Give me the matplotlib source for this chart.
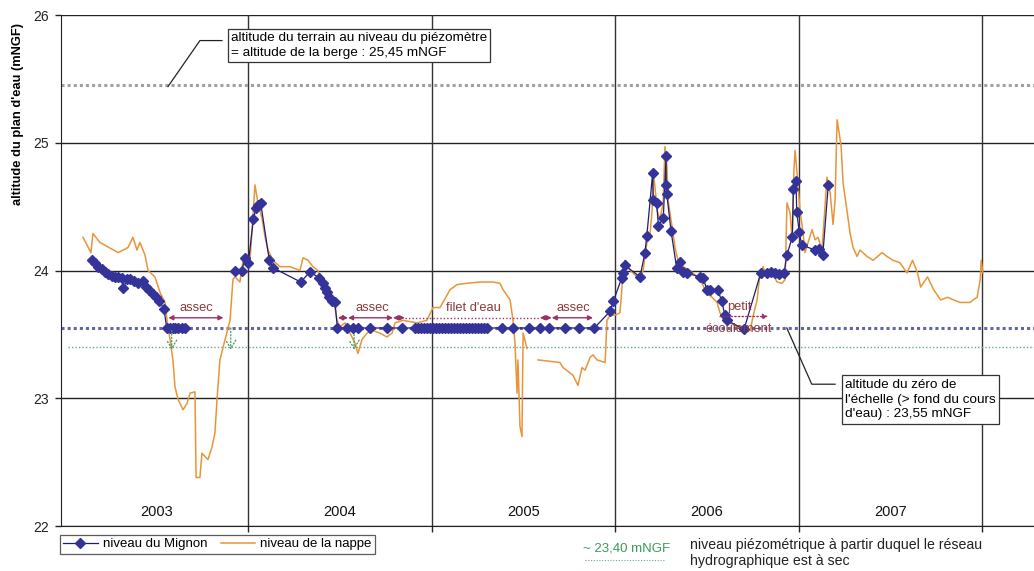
import numpy as np
import matplotlib
matplotlib.use("Agg")
import matplotlib.pyplot as plt

plt.rcParams['font.family'] = ['Liberation Sans', 'DejaVu Sans']

# niveau de la nappe (piezometre), annee decimale / mNGF
nappe_t = [2003.101, 2003.144, 2003.155, 2003.193, 2003.292, 2003.346, 2003.373, 2003.395, 2003.411,
           2003.439, 2003.455, 2003.493, 2003.520, 2003.548, 2003.559, 2003.575, 2003.591, 2003.602,
           2003.619, 2003.646, 2003.668, 2003.684, 2003.711, 2003.717, 2003.738, 2003.749, 2003.782,
           2003.804, 2003.820, 2003.831, 2003.847, 2003.875, 2003.902, 2003.918, 2003.929, 2003.956,
           2003.973, 2003.995, 2004.011, 2004.038, 2004.054, 2004.076, 2004.093, 2004.109, 2004.136,
           2004.174, 2004.229, 2004.283, 2004.300, 2004.327, 2004.354, 2004.381, 2004.409, 2004.447,
           2004.474, 2004.485, 2004.501, 2004.529, 2004.556, 2004.583, 2004.599, 2004.621, 2004.649,
           2004.681, 2004.719, 2004.757, 2004.785, 2004.801, 2004.845, 2004.921, 2004.975, 2005.008,
           2005.046, 2005.074, 2005.101, 2005.139, 2005.193, 2005.264, 2005.335, 2005.373, 2005.390,
           2005.428, 2005.444, 2005.455, 2005.466, 2005.471, 2005.482, 2005.493, 2005.499, 2005.520,
           2005.540, 2005.580, 2005.700, 2005.717, 2005.744, 2005.771, 2005.798, 2005.820, 2005.837,
           2005.864, 2005.880, 2005.902, 2005.946, 2005.956, 2005.973, 2006.000, 2006.027, 2006.038,
           2006.044, 2006.054, 2006.071, 2006.098, 2006.136, 2006.153, 2006.174, 2006.191, 2006.202,
           2006.207, 2006.218, 2006.229, 2006.245, 2006.262, 2006.272, 2006.283, 2006.289, 2006.311,
           2006.327, 2006.343, 2006.371, 2006.409, 2006.447, 2006.474, 2006.501, 2006.529, 2006.556,
           2006.572, 2006.594, 2006.627, 2006.665, 2006.698, 2006.736, 2006.752, 2006.774, 2006.790,
           2006.807, 2006.828, 2006.856, 2006.883, 2006.910, 2006.927, 2006.937, 2006.954, 2006.965,
           2006.975, 2006.981, 2006.992, 2007.008, 2007.025, 2007.035, 2007.052, 2007.074, 2007.090,
           2007.106, 2007.128, 2007.134, 2007.155, 2007.172, 2007.188, 2007.199, 2007.210, 2007.221,
           2007.232, 2007.243, 2007.264, 2007.281, 2007.297, 2007.319, 2007.335, 2007.373, 2007.406,
           2007.455, 2007.482, 2007.515, 2007.553, 2007.591, 2007.621, 2007.649, 2007.665, 2007.703,
           2007.736, 2007.774, 2007.812, 2007.845, 2007.880, 2007.935, 2007.951, 2007.973, 2007.990,
           2007.995, 2008.005]
nappe_v = [24.26, 24.14, 24.29, 24.22, 24.14, 24.18, 24.26, 24.16, 24.22,
           24.12, 24.00, 23.95, 23.83, 23.75, 23.61, 23.46, 23.30, 23.09,
           22.99, 22.91, 22.96, 23.04, 23.05, 22.38, 22.38, 22.57, 22.52,
           22.62, 22.73, 22.99, 23.30, 23.46, 23.61, 23.93, 23.95, 23.91,
           24.08, 24.11, 24.08, 24.67, 24.53, 24.41, 24.26, 24.16, 24.08,
           24.03, 24.03, 24.00, 24.10, 24.08, 24.03, 24.00, 23.90, 23.79,
           23.71, 23.61, 23.56, 23.59, 23.51, 23.43, 23.35, 23.46, 23.51,
           23.53, 23.51, 23.48, 23.51, 23.59, 23.61, 23.59, 23.61, 23.71,
           23.71, 23.78, 23.85, 23.89, 23.90, 23.91, 23.91, 23.90, 23.85,
           23.77, 23.61, 23.43, 23.04, 23.30, 22.78, 22.70, 23.51, 23.39,
           np.nan, 23.30, 23.28, 23.24, 23.21, 23.18, 23.10, 23.24, 23.22,
           23.32, 23.34, 23.30, 23.28, 23.61, 23.65, 23.65, 23.67, 23.87,
           24.00, 24.08, 24.02, 23.98, 23.93, 24.00, 24.22, 24.29, 24.47,
           24.79, 24.65, 24.47, 24.40, 24.53, 24.97, 24.81, 24.55, 24.34,
           24.18, 24.08, 24.03, 24.00, 23.95, 23.90, 23.82, 23.79, 23.75,
           23.67, 23.61, 23.59, 23.56, 23.53, 23.53, 23.64, 23.77, 23.98,
           24.03, 23.95, 23.98, 23.91, 23.90, 23.93, 24.53, 24.45, 24.24,
           24.79, 24.94, 24.76, 24.47, 24.29, 24.14, 24.22, 24.32, 24.24,
           24.26, 24.16, 24.29, 24.73, 24.61, 24.36, 24.55, 25.18, 25.08,
           24.97, 24.68, 24.47, 24.29, 24.18, 24.11, 24.16, 24.11, 24.08,
           24.14, 24.11, 24.08, 24.06, 23.98, 24.08, 23.98, 23.87, 23.95,
           23.85, 23.77, 23.79, 23.77, 23.75, 23.75, 23.77, 23.79, 23.93,
           24.08, 23.98]

# niveau du Mignon (echelle), annee decimale / mNGF
mignon_t = [2003.152, 2003.166, 2003.184, 2003.203, 2003.221, 2003.239, 2003.257, 2003.275, 2003.293,
            2003.312, 2003.321, 2003.339, 2003.357, 2003.379, 2003.402, 2003.426, 2003.444, 2003.462,
            2003.480, 2003.499, 2003.517, 2003.542, 2003.557, 2003.575, 2003.591, 2003.602, 2003.619,
            2003.640, 2003.657, 2003.800,
            2003.929, 2003.966, 2003.984, 2004.002, 2004.029, 2004.044, 2004.057, 2004.069, 2004.116,
            2004.138, 2004.287, 2004.338, 2004.389, 2004.407, 2004.420, 2004.432, 2004.443, 2004.456,
            2004.474, 2004.487, 2004.538, 2004.571, 2004.598, 2004.665, 2004.756, 2004.838,
            2004.910, 2004.926, 2004.943, 2004.959, 2004.975, 2004.992, 2005.008, 2005.025, 2005.041,
            2005.057, 2005.074, 2005.090, 2005.106, 2005.123, 2005.139, 2005.155, 2005.172, 2005.188,
            2005.204, 2005.221, 2005.237, 2005.253, 2005.270, 2005.286, 2005.302,
            2005.383, 2005.446, 2005.533, 2005.591, 2005.642, 2005.728, 2005.804, 2005.887,
            2005.973, 2005.991, 2006.036, 2006.045, 2006.054, 2006.136, 2006.163, 2006.173, 2006.205,
            2006.209, 2006.227, 2006.236, 2006.263, 2006.278, 2006.279, 2006.282, 2006.305, 2006.336,
            2006.354, 2006.372, 2006.391, 2006.463, 2006.481, 2006.500, 2006.518, 2006.560, 2006.581,
            2006.599, 2006.609, 2006.703, 2006.794, 2006.827, 2006.850, 2006.872, 2006.895, 2006.921,
            2006.936, 2006.966, 2006.972, 2006.986, 2006.990, 2007.004, 2007.017, 2007.090, 2007.113,
            2007.132, 2007.162]
mignon_v = [24.08, 24.06, 24.03, 24.01, 23.99, 23.97, 23.96, 23.95, 23.95,
            23.94, 23.86, 23.93, 23.93, 23.92, 23.90, 23.92, 23.87, 23.85,
            23.82, 23.79, 23.76, 23.70, 23.55, 23.55, 23.55, 23.55, 23.55,
            23.55, 23.55, np.nan,
            24.00, 24.00, 24.10, 24.06, 24.40, 24.49, 24.51, 24.53, 24.08,
            24.02, 23.91, 23.99, 23.94, 23.90, 23.86, 23.83, 23.79, 23.76,
            23.75, 23.55, 23.55, 23.55, 23.55, 23.55, 23.55, 23.55,
            23.55, 23.55, 23.55, 23.55, 23.55, 23.55, 23.55, 23.55, 23.55,
            23.55, 23.55, 23.55, 23.55, 23.55, 23.55, 23.55, 23.55, 23.55,
            23.55, 23.55, 23.55, 23.55, 23.55, 23.55, 23.55,
            23.55, 23.55, 23.55, 23.55, 23.55, 23.55, 23.55, 23.55,
            23.68, 23.76, 23.94, 23.98, 24.04, 23.95, 24.14, 24.27, 24.76,
            24.55, 24.53, 24.35, 24.41, 24.90, 24.67, 24.60, 24.31, 24.02,
            24.07, 23.99, 23.98, 23.95, 23.94, 23.85, 23.85, 23.85, 23.76,
            23.65, 23.61, 23.54, 23.98, 23.98, 23.99, 23.98, 23.97, 23.98,
            24.12, 24.26, 24.64, 24.70, 24.46, 24.30, 24.20, 24.16, 24.17,
            24.12, 24.67]

years = [2003, 2004, 2005, 2006, 2007]
alt_berge = 25.45
alt_zero_echelle = 23.55
niveau_sec = 23.40

fig = plt.figure(figsize=(10.34, 5.71), dpi=100)
ax = fig.add_axes([0.059, 0.0788, 0.941, 0.8949])

ax.set_xlim(2002.981, 2008.283)
ax.set_ylim(22, 26)

# grille
for yy in [22, 23, 24, 25, 26]:
    ax.axhline(yy, color='#222222', lw=1.0, zorder=1)
for yb in years[1:] + [2008]:
    ax.axvline(yb, color='#333333', lw=1.0, zorder=1)

# niveaux de reference
ax.axhline(alt_berge, color='#a0a0a0', lw=2.2, ls=(0, (1, 1)), zorder=2)
ax.axhline(alt_zero_echelle, color='#6464a8', lw=2.2, ls=(0, (1, 1)), zorder=2)
ax.plot([2003.02, 2008.283], [niveau_sec] * 2, color='#66aa88', lw=1.0, ls=(0, (1, 1.5)), zorder=2)

# series
ax.plot(nappe_t, nappe_v, color='#e8953a', lw=1.1, zorder=3, label='niveau de la nappe')
ax.plot(mignon_t, mignon_v, color='#1e1e70', lw=0.9, marker='D', ms=5,
        markerfacecolor='#33339a', markeredgecolor='#33339a', zorder=4, label='niveau du Mignon')

# annotations assec / filet d'eau / petit ecoulement
arr_col = '#993366'
txt_col = '#8b3a3a'
y_arr = 23.63
fs_note = 9.3


def double_arrow(x0, x1, y=y_arr):
    ax.annotate('', xy=(x1, y), xytext=(x0, y),
                arrowprops=dict(arrowstyle='<|-|>', color=arr_col, lw=1.0,
                                mutation_scale=7, shrinkA=0, shrinkB=0), zorder=5)


double_arrow(2003.566, 2003.866)
ax.text(2003.716, 23.66, 'assec', color=txt_col, fontsize=fs_note, ha='center', va='bottom')

double_arrow(2004.490, 2004.545)
double_arrow(2004.545, 2004.790)
double_arrow(2004.790, 2004.855)
ax.text(2004.675, 23.66, 'assec', color=txt_col, fontsize=fs_note, ha='center', va='bottom')
ax.plot([2004.855, 2005.590], [y_arr, y_arr], color=arr_col, lw=1.0, ls=(0, (1, 1.5)), zorder=5)
ax.text(2005.226, 23.66, "filet d'eau", color=txt_col, fontsize=fs_note, ha='center', va='bottom')

double_arrow(2005.590, 2005.655)
double_arrow(2005.655, 2005.880)
ax.text(2005.770, 23.66, 'assec', color=txt_col, fontsize=fs_note, ha='center', va='bottom')

ax.annotate('', xy=(2006.835, 23.64), xytext=(2006.572, 23.64),
            arrowprops=dict(arrowstyle='-|>', color=arr_col, lw=1.0, ls=':',
                            mutation_scale=8, shrinkA=0, shrinkB=0), zorder=5)
ax.text(2006.680, 23.665, 'petit', color=txt_col, fontsize=fs_note, ha='center', va='bottom', zorder=6)
ax.text(2006.672, 23.545, 'écoulement', color=txt_col, fontsize=fs_note, ha='center', va='center', zorder=6)

# fleches vertes vers le niveau a sec
for xg, yg in [(2003.584, 23.53), (2003.906, 23.55), (2004.578, 23.50)]:
    ax.annotate('', xy=(xg, 23.38), xytext=(xg, yg),
                arrowprops=dict(arrowstyle='->,head_length=0.5,head_width=0.3', color='#3a9a5a',
                                lw=0.9, ls=':', mutation_scale=12, shrinkA=0, shrinkB=0), zorder=5)

# encadres
fs_box = 9.7
ax.plot([2003.564, 2003.738, 2003.858], [25.44, 25.80, 25.80], color='#222222', lw=0.9, zorder=5)
ax.text(2003.907, 25.76,
        'altitude du terrain au niveau du piézomètre\n= altitude de la berge : 25,45 mNGF',
        fontsize=fs_box, va='center', ha='left', linespacing=1.3, zorder=6,
        bbox=dict(boxstyle='square,pad=0.25', fc='white', ec='#333333', lw=0.9))

ax.plot([2006.936, 2007.072, 2007.199], [23.55, 23.11, 23.11], color='#222222', lw=0.9, zorder=5)
ax.text(2007.255, 22.99,
        "altitude du zéro de\nl'échelle (> fond du cours\nd'eau) : 23,55 mNGF",
        fontsize=fs_box, va='center', ha='left', linespacing=1.3, zorder=6,
        bbox=dict(boxstyle='square,pad=0.25', fc='white', ec='#333333', lw=0.9))

# annees
for yr in years:
    ax.text(yr + 0.5, 22.11, str(yr), fontsize=10.5, ha='center', va='center', color='#111111')

# axes
ax.set_yticks([22, 23, 24, 25, 26])
ax.set_yticklabels(['22', '23', '24', '25', '26'], fontsize=10, color='#222222')
ax.set_xticks(years[1:] + [2008])
ax.set_xticklabels([])
ax.tick_params(axis='both', direction='out', length=4, width=1, color='#222222')
ax.tick_params(axis='y', pad=5)
for s in ['top', 'right']:
    ax.spines[s].set_visible(False)
for s in ['left', 'bottom']:
    ax.spines[s].set_color('#222222')

fig.text(0.017, 0.80, "altitude du plan d'eau (mNGF)", rotation=90, fontsize=9.3,
         fontweight='bold', ha='center', va='center')

h, l = ax.get_legend_handles_labels()
leg = ax.legend(h[::-1], l[::-1], loc='upper left', bbox_to_anchor=(-0.001, -0.017), ncol=2,
                fontsize=9.5, frameon=True, fancybox=False, edgecolor='#333333',
                borderpad=0.25, handlelength=2.6, columnspacing=1.0, handletextpad=0.4,
                borderaxespad=0)
leg.get_frame().set_linewidth(0.9)

# legende du niveau a sec
fig.text(0.564, 0.040, '~ 23,40 mNGF', color='#3a9a5a', fontsize=9.5, ha='left', va='center')
fig.lines.append(plt.Line2D([0.566, 0.643], [0.019, 0.019], transform=fig.transFigure,
                            color='#66aa88', lw=0.8, ls=(0, (1, 1.5))))
fig.text(0.667, 0.031, 'niveau piézométrique à partir duquel le réseau\nhydrographique est à sec',
         fontsize=10.2, ha='left', va='center', linespacing=1.2, color='#222222')

fig.savefig('out.png', dpi=100)
